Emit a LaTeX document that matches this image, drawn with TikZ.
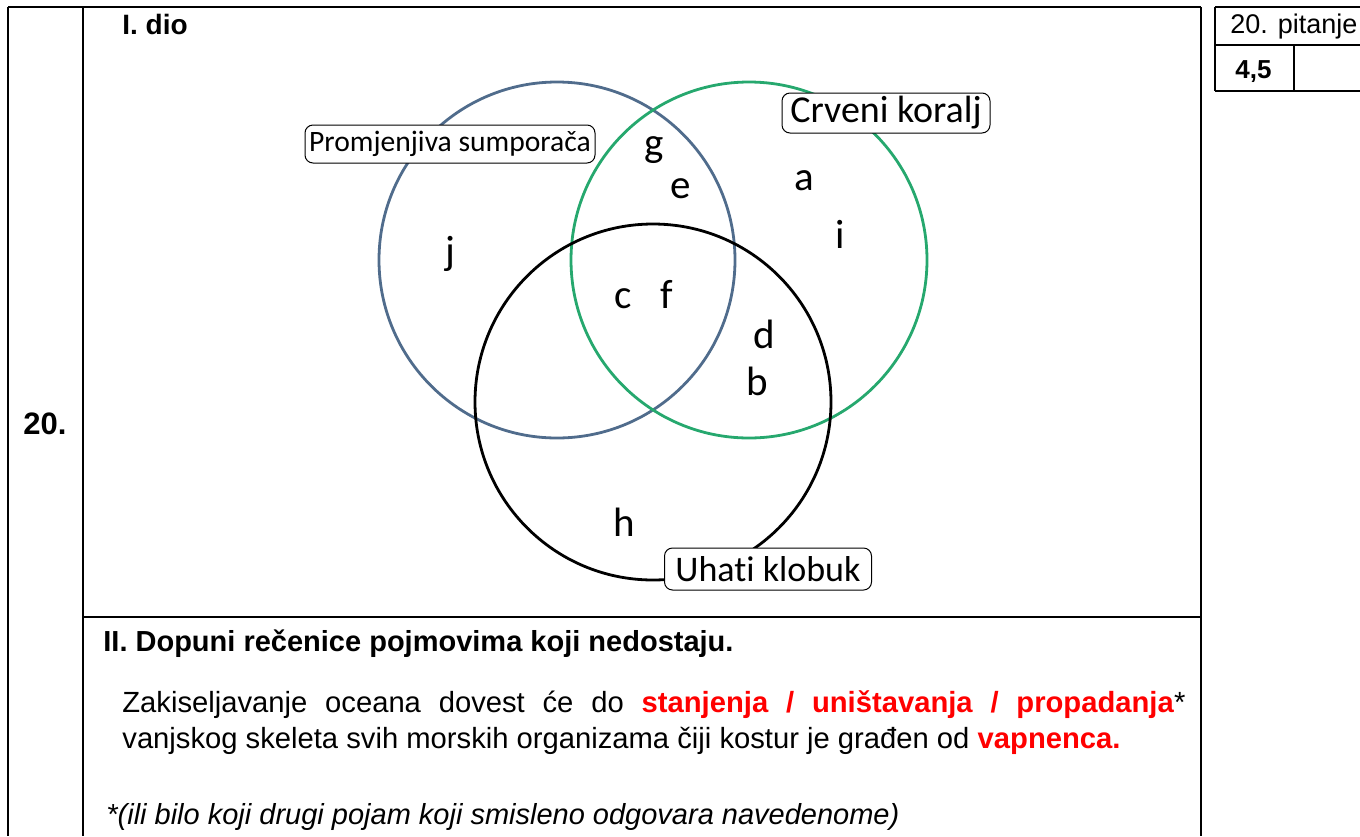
\documentclass[tikz,border=0pt]{standalone}
\usepackage{fontspec}
\setmainfont{Liberation Sans}
\newfontfamily\vennfont[Ligatures=NoCommon]{Carlito}
\usepackage{tikz}
\usetikzlibrary{positioning}
\definecolor{vennblue}{RGB}{80,108,140}
\definecolor{venngreen}{RGB}{38,168,110}
\definecolor{ansred}{RGB}{255,0,0}
\tikzstyle{rule} = [line width=1.3pt, black]
\tikzstyle{thinrule} = [line width=0.8pt, black]
\tikzstyle{setcircle} = [line width=1.4pt]
\tikzstyle{setlabel} = [draw=black, line width=0.5pt, rounded corners=4pt, fill=white, inner sep=0pt, font=\vennfont]
\tikzstyle{member} = [font=\vennfont\fontsize{20.5}{20.5}\selectfont, inner sep=0pt, anchor=base]
\tikzstyle{bodytext} = [inner sep=0pt, anchor=base west, font=\fontsize{14.6}{19}\selectfont]

\begin{document}
\begin{tikzpicture}[x=0.5pt, y=-0.5pt]
\useasboundingbox (0,0) rectangle (1360,836);
% Table frame
\draw[rule] (8,7) -- (1201,7);
\draw[rule] (8,7) -- (8,836);
\draw[rule] (83,7) -- (83,836);
\draw[rule] (1201,7) -- (1201,836);
\draw[rule] (83,617) -- (1201,617);
\node (num) [anchor=base west, inner sep=0pt, font=\fontsize{15.5}{15.5}\selectfont\bfseries] at (23,434) {20.};
\node (part1) [anchor=base west, inner sep=0pt, font=\fontsize{14}{14}\selectfont\bfseries] at (122,34) {I. dio};

% Score box
\draw[thinrule] (1215,7) -- (1360,7);
\draw[thinrule] (1215,45) -- (1360,45);
\draw[thinrule] (1215,91) -- (1360,91);
\draw[thinrule] (1215,7) -- (1215,91);
\draw[thinrule] (1294,45) -- (1294,91);
\node (pitanje) [anchor=base west, inner sep=0pt, font=\fontsize{13.5}{13.5}\selectfont] at (1230,33) {20. pitanje};
\node (points) [anchor=base west, inner sep=0pt, font=\fontsize{13}{13}\selectfont\bfseries] at (1235,78) {4,5};

% Venn diagram
\draw[setcircle, vennblue] (557,260) circle[radius=178];
\draw[setcircle, venngreen] (749,260) circle[radius=178];
\draw[setcircle, black] (653,402) circle[radius=178];
\node (sump) [setlabel, minimum width=145pt, minimum height=19pt] at (450,144) {\fontsize{14.8}{14.8}\selectfont Promjenjiva sumporača};
\node (koralj) [setlabel, minimum width=104pt, minimum height=20pt] at (886,113) {\fontsize{19}{19}\selectfont Crveni koralj};
\node (klobuk) [setlabel, minimum width=103.5pt, minimum height=21pt] at (768,569) {\fontsize{18}{18}\selectfont Uhati klobuk};
\node (g) [member] at (654,156) {g};
\node (e) [member] at (681,198) {e};
\node (a) [member] at (804,190) {a};
\node (i) [member] at (840,248) {i};
\node (j) [member] at (450,264) {j};
\node (c) [member] at (623,308) {c};
\node (f) [member] at (667,308) {f};
\node (d) [member] at (764,348) {d};
\node (b) [member] at (757,395) {b};
\node (h) [member] at (624,536) {h};

% Part II
\node (part2) [bodytext, font=\fontsize{14.5}{19}\selectfont\bfseries] at (103,651) {II. Dopuni rečenice pojmovima koji nedostaju.};
\node (line1) [bodytext] at (122,712) {\makebox[531.5pt][s]{Zakiseljavanje oceana dovest će do \textcolor{ansred}{\textbf{stanjenja / uništavanja / propadanja}}*}};
\node (line2) [bodytext] at (122,748) {vanjskog skeleta svih morskih organizama čiji kostur je građen od \textcolor{ansred}{\textbf{vapnenca.}}};
\node (note) [bodytext, font=\fontsize{14.5}{19}\selectfont\itshape] at (106,824) {*(ili bilo koji drugi pojam koji smisleno odgovara navedenome)};
\end{tikzpicture}
\end{document}
